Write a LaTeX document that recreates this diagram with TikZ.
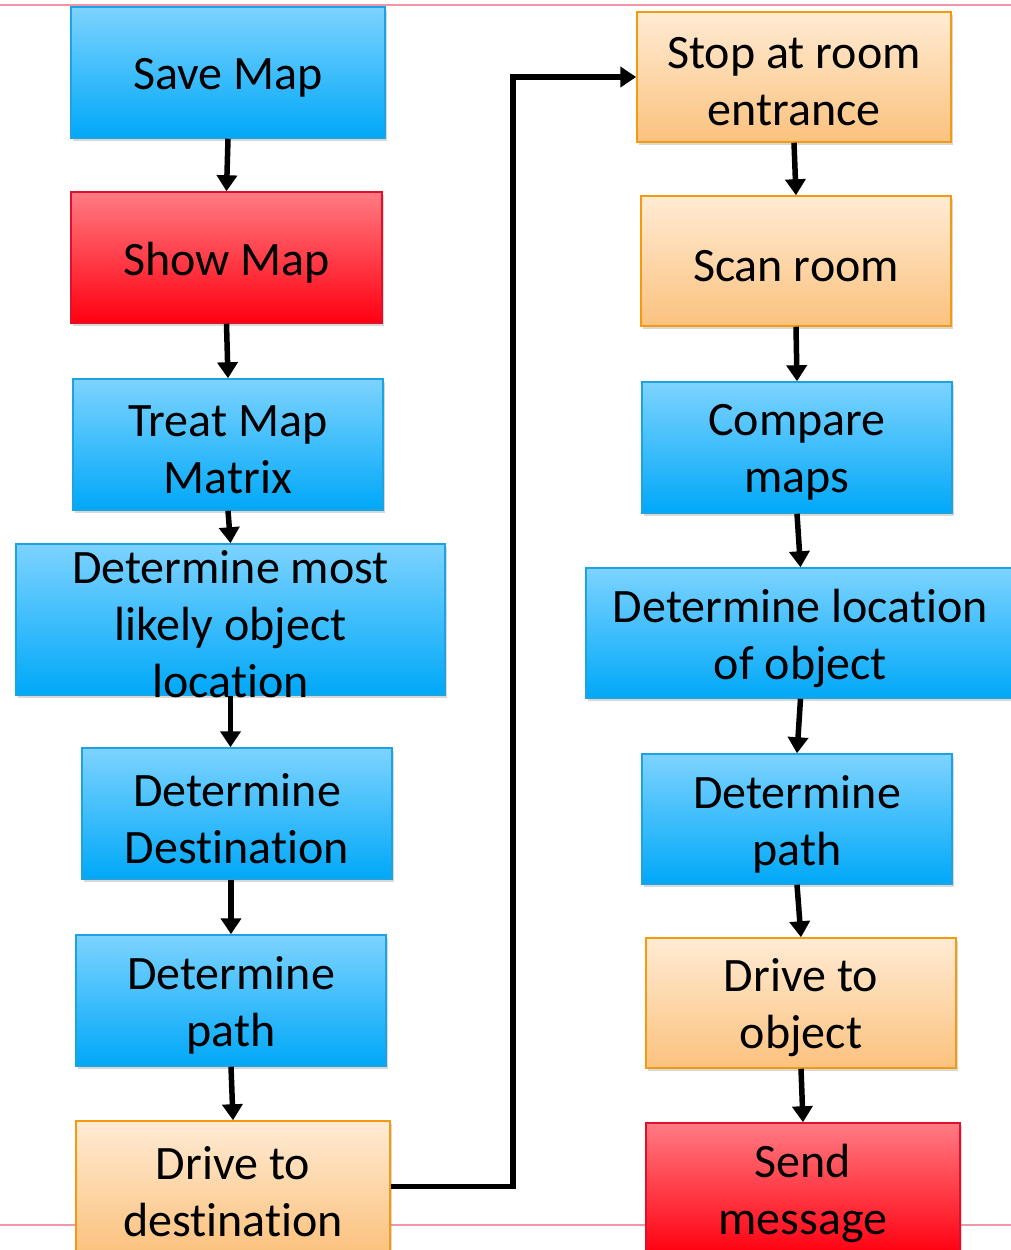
\documentclass[tikz,border=0pt]{standalone}
\usepackage{fontspec}
\setmainfont{Carlito}[RawFeature={-liga}]
\usetikzlibrary{arrows.meta,shadows}

\definecolor{bluetop}{RGB}{125,211,255}
\definecolor{bluebot}{RGB}{0,168,248}
\definecolor{blueedge}{RGB}{28,163,224}
\definecolor{redtop}{RGB}{255,123,130}
\definecolor{redbot}{RGB}{255,0,16}
\definecolor{rededge}{RGB}{224,16,42}
\definecolor{orangetop}{RGB}{255,235,212}
\definecolor{orangebot}{RGB}{251,194,126}
\definecolor{orangeedge}{RGB}{243,154,16}
\definecolor{guide}{RGB}{240,150,170}

\tikzset{
  box/.style={rectangle, inner sep=0pt, line width=1.5pt,
    drop shadow={opacity=0.3, shadow xshift=2pt, shadow yshift=-3pt},
    label={[font=\fontsize{48}{57}\selectfont, align=center, yshift=-5pt]center:#1}},
  bluebox/.style={box={#1}, draw=blueedge, top color=bluetop, bottom color=bluebot},
  redbox/.style={box={#1}, draw=rededge, top color=redtop, bottom color=redbot},
  orangebox/.style={box={#1}, draw=orangeedge, top color=orangetop, bottom color=orangebot},
  flow/.style={line width=5.5pt, -{Triangle[length=16pt,width=20pt]}},
  guideline/.style={draw=guide, line width=1.5pt}
}

\begin{document}
\begin{tikzpicture}[x=1pt, y=-1pt]
  \useasboundingbox (0,0) rectangle (1011,1250);
  \clip (0,0) rectangle (1011,1250);
  \fill[white] (0,0) rectangle (1011,1250);

  % page guide lines
  \draw[guideline] (0,5) -- (1011,5);
  \draw[guideline] (0,1225) -- (1011,1225);

  % left column
  \node[bluebox={Save Map}, minimum width=314pt, minimum height=131pt] (save) at (228,72.5) {};
  \node[redbox={Show Map}, minimum width=311pt, minimum height=131pt] (show) at (226.5,257.5) {};
  \node[bluebox={Treat Map\\Matrix}, minimum width=310pt, minimum height=131pt] (treat) at (228,444.5) {};
  \node[bluebox={Determine most\\likely object\\location}, minimum width=429pt, minimum height=151pt] (likely) at (230.5,619.5) {};
  \node[bluebox={Determine\\Destination}, minimum width=310pt, minimum height=131pt] (dest) at (237,813.5) {};
  \node[bluebox={Determine\\path}, minimum width=310pt, minimum height=131pt] (pathL) at (231,1000.5) {};
  \node[orangebox={Drive to\\destination}, minimum width=314pt, minimum height=131pt] (drivedest) at (233,1186.5) {};

  % right column
  \node[orangebox={Stop at room\\entrance}, minimum width=314pt, minimum height=130pt] (stop) at (794,77) {};
  \node[orangebox={Scan room}, minimum width=310pt, minimum height=130pt] (scan) at (796,261) {};
  \node[bluebox={Compare\\maps}, minimum width=310pt, minimum height=131pt] (compare) at (797,447.5) {};
  \node[bluebox={Determine location\\of object}, minimum width=429pt, minimum height=130pt] (locobj) at (800.5,633) {};
  \node[bluebox={Determine\\path}, minimum width=310pt, minimum height=130pt] (pathR) at (797,819) {};
  \node[orangebox={Drive to\\object}, minimum width=310pt, minimum height=130pt] (driveobj) at (801,1003) {};
  \node[redbox={Send\\message}, minimum width=314pt, minimum height=131pt] (send) at (803,1188.5) {};

  % connectors, left column
  \draw[flow] (save.south) -- (show.north);
  \draw[flow] (show.south) -- (treat.north);
  \draw[flow] (treat.south) -- (likely.north);
  \draw[flow] (likely.south) -- (likely.south |- dest.north);
  \draw[flow] (pathL.north |- dest.south) -- (pathL.north);
  \draw[flow] (pathL.south) -- (drivedest.north);

  % crossover to the right column
  \coordinate (bend) at (513,1186.5);
  \draw[flow] (drivedest.east) -- (bend) |- (stop.west);

  % connectors, right column
  \draw[flow] (stop.south) -- (scan.north);
  \draw[flow] (scan.south) -- (compare.north);
  \draw[flow] (compare.south) -- (locobj.north);
  \draw[flow] (locobj.south) -- (pathR.north);
  \draw[flow] (pathR.south) -- (driveobj.north);
  \draw[flow] (driveobj.south) -- (send.north);
\end{tikzpicture}
\end{document}
